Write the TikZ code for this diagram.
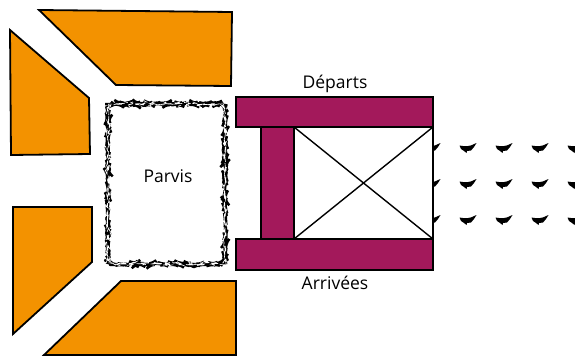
\documentclass[tikz,border=0pt]{standalone}
\usepackage{fontspec}
\setmainfont{Open Sans}
\usetikzlibrary{decorations.pathmorphing}
\definecolor{terminal}{HTML}{F39200}
\definecolor{quai}{HTML}{A3195B}
\tikzset{
  terminal/.style={draw=black, fill=terminal, line width=1.8pt, line join=miter},
  quai/.style={draw=black, fill=quai, line width=1.4pt},
  libelle/.style={font=\fontsize{17.5}{20}\selectfont, inner sep=0pt},
  avion/.pic={\fill (-8.5,-2.5) -- (-5,-2) -- (-1,-1.8) -- (3,-2.6) -- (8.5,-5) -- (6,-1) -- (3,2.5) -- (-1,3) -- (-1.5,5) -- (-4,3) -- (-7,1) -- cycle;}
}

\begin{document}
\begin{tikzpicture}[x=1pt, y=-1pt]
  \clip (0,0) rectangle (575,356);
  \fill[white] (0,0) rectangle (575,356);

  \draw[terminal] (39,10) -- (232,12) -- (231,86) -- (116,85) -- cycle;
  \draw[terminal] (10,30) -- (89,98) -- (90,154) -- (11,155) -- cycle;
  \draw[terminal] (13,207) -- (92,207) -- (92,262) -- (13,334) -- cycle;
  \draw[terminal] (121,281) -- (236,281) -- (236,355) -- (44,355) -- cycle;

  \foreach \x in {432,468,504,540,576}
    \foreach \y in {148,184,220}
      \pic at (\x,\y) {avion};

  \draw[line width=2.4pt, rounded corners=7pt, decorate, decoration={random steps, segment length=2.5pt, amplitude=0.9pt}]
    (108,104) rectangle (225,264);
  \draw[white, line width=0.6pt, dash pattern=on 5pt off 9pt, rounded corners=7pt, decorate, decoration={random steps, segment length=3pt, amplitude=1.1pt}]
    (108,104) rectangle (225,264);

  \draw[line width=1.4pt, fill=white] (294,127) rectangle (433,239);
  \draw[line width=1.4pt] (294,127) -- (433,239);
  \draw[line width=1.4pt] (294,239) -- (433,127);
  \draw[quai] (261,127) rectangle (294,239);
  \draw[quai] (236,97) rectangle (433,127);
  \draw[quai] (236,239) rectangle (433,270);

  \node[libelle] (parvis) at (168,176) {Parvis};
  \node[libelle] (departs) at (335,84) {Départs};
  \node[libelle] (arrivees) at (335,283) {Arrivées};
\end{tikzpicture}
\end{document}
